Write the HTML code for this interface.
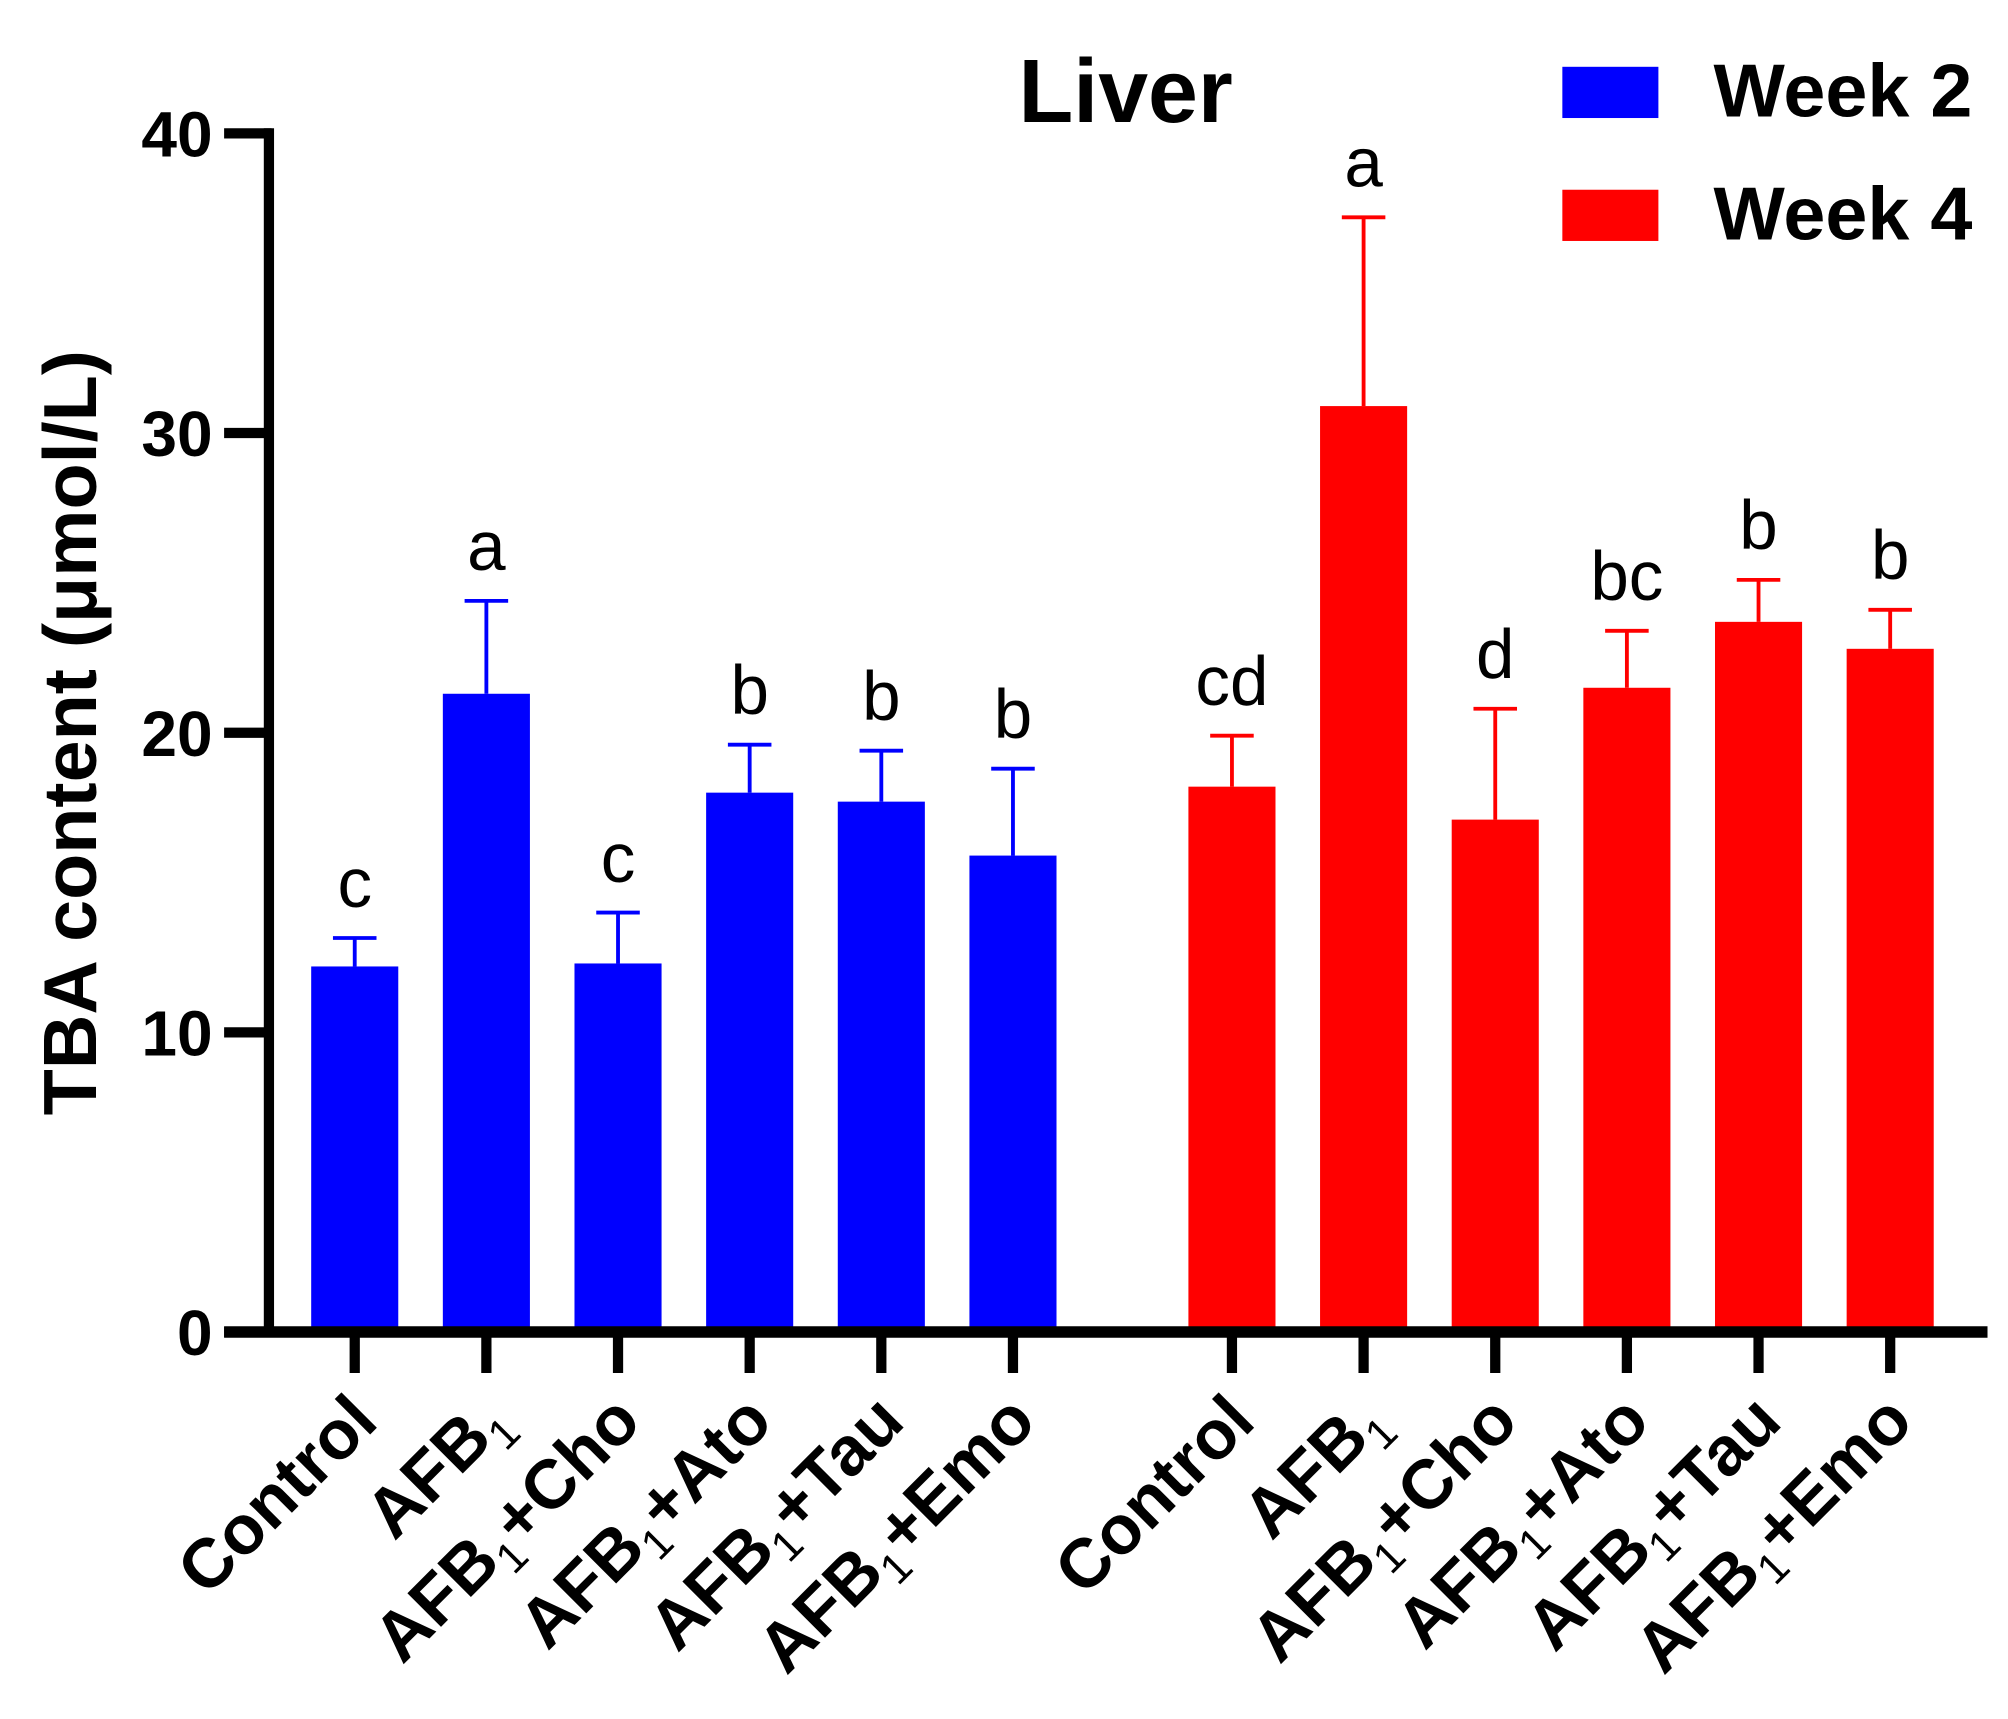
<!DOCTYPE html>
<html><head><meta charset="utf-8"><style>
html,body{margin:0;padding:0;background:#fff;}
svg{display:block;font-family:"Liberation Sans",Arial,sans-serif;}
</style></head><body>
<svg id="chart" width="2008" height="1719" viewBox="0 0 1568 1342" xmlns="http://www.w3.org/2000/svg">
<g id="marks"></g>
<text x="879" y="95" font-size="70" font-weight="bold" text-anchor="middle">Liver</text>
<rect x="1220" y="52" width="75" height="40" fill="#0000ff"/>
<text x="1338" y="91" font-size="59" font-weight="bold">Week 2</text>
<rect x="1220" y="148" width="75" height="40" fill="#ff0000"/>
<text x="1338" y="187" font-size="59" font-weight="bold">Week 4</text>
<text transform="translate(75,572) rotate(-90)" font-size="59" font-weight="bold" text-anchor="middle">TBA content (μmol/L)</text>
</svg>
<script>
const categories=["Control","AFB1","AFB1+Cho","AFB1+Ato","AFB1+Tau","AFB1+Emo"];
const week2=[12.2,21.3,12.3,18.0,17.7,15.9];
const week2Err=[0.95,3.1,1.7,1.6,1.7,2.9];
const week4=[18.2,30.9,17.1,21.5,23.7,22.8];
const week4Err=[1.7,6.3,3.7,1.9,1.4,1.3];
const week2Letters=["c","a","c","b","b","b"];
const week4Letters=["cd","a","d","bc","b","b"];
const yTicks=[0,10,20,30,40];

const NS="http://www.w3.org/2000/svg";
const g=document.getElementById('marks');
const y0=1040, yTop=104, yMax=40;
function ys(v){return y0-(y0-yTop)*v/yMax;}
function xs(group,i){return (group===0?277:962)+i*102.8;}
function el(t,a){const e=document.createElementNS(NS,t);for(const k in a)e.setAttribute(k,a[k]);g.appendChild(e);return e;}
const bw=68;
[[week2,week2Err,week2Letters,"#0000ff"],[week4,week4Err,week4Letters,"#ff0000"]].forEach((s,gi)=>{
  s[0].forEach((v,i)=>{
    const cx=xs(gi,i), top=ys(v), et=ys(v+s[1][i]);
    const b=el('rect',{x:cx-bw/2,y:top,width:bw,height:y0-top,fill:s[3]});
    
    
    const e1=el('line',{x1:cx,x2:cx,y1:top,y2:et,stroke:s[3],'stroke-width':3});
    
    
    const e2=el('line',{x1:cx-17,x2:cx+17,y1:et,y2:et,stroke:s[3],'stroke-width':3});
    
    
    const t=el('text',{x:cx,y:et-24,'font-size':54,'text-anchor':'middle'});
    t.textContent=s[2][i];
    
    
    const tk=el('line',{x1:cx,x2:cx,y1:y0,y2:y0+32,stroke:'#000','stroke-width':8});
    
    
    const lab=el('text',{transform:`translate(${cx+20},${y0+72}) rotate(-45)`,'font-size':54,'font-weight':'bold','text-anchor':'end'});
    const c=categories[i];
    if(c.startsWith('AFB1')){
      lab.appendChild(document.createTextNode('AFB'));
      const sub=document.createElementNS(NS,'tspan');sub.setAttribute('font-size','34');sub.setAttribute('font-weight','normal');sub.setAttribute('dy','12');sub.textContent='1';lab.appendChild(sub);
      if(c.length>4){const r=document.createElementNS(NS,'tspan');r.setAttribute('dy','-12');r.textContent=c.slice(4);lab.appendChild(r);}
    } else lab.textContent=c;
    
    
  });
});
yTicks.forEach(v=>{
  const y=ys(v);
  const tk=el('line',{x1:175,x2:212,y1:y,y2:y,stroke:'#000','stroke-width':8});
  
  
  const t=el('text',{x:166,y:y+18,'font-size':50,'font-weight':'bold','text-anchor':'end'});
  t.textContent=v;
  
  
});
const ya=el('line',{x1:210,x2:210,y1:100,y2:1044,stroke:'#000','stroke-width':8});


const xa=el('line',{x1:175,x2:1552,y1:y0,y2:y0,stroke:'#000','stroke-width':9});


</script>
</body></html>
